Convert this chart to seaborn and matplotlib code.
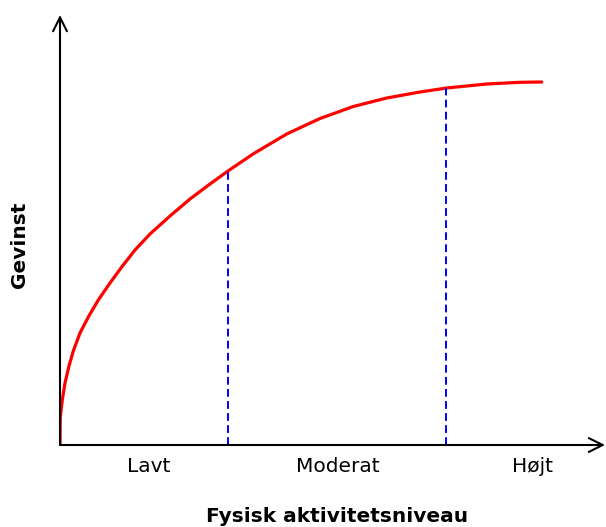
import matplotlib
matplotlib.use("Agg")
import matplotlib.pyplot as plt
import seaborn as sns
import pandas as pd

# curve (activity level vs. benefit, arbitrary units)
aktivitet = [0, 0.3, 2.3, 5, 9, 13.3, 20, 28.3, 38.3, 50, 61.7, 75, 90, 110,
             130, 150, 168, 193, 226.7, 260, 293.3, 326.7, 360, 386.7, 426.7,
             460, 481.7]
gevinst = [0, 28, 45, 62, 79, 94, 112, 128, 145, 162, 178, 195, 211, 229,
           246, 261, 274, 291, 311, 326.5, 338.5, 347, 353, 357, 361, 362.7, 363]

# boundaries between levels and where they meet the curve
graenser = [168, 386]
graense_hoejde = [274, 357]

niveauer = ["Lavt", "Moderat", "Højt"]
niveau_pos = [89, 278, 472]

sns.set_style("white")
plt.rcParams['font.family'] = ['DejaVu Sans']

df = pd.DataFrame({"aktivitet": aktivitet, "gevinst": gevinst})

fig = plt.figure(figsize=(6.06, 5.27), dpi=100)
ax = fig.add_axes([60/606, 82/527, 546/606, 435/527])

sns.lineplot(data=df, x="aktivitet", y="gevinst", color="red", lw=2.3,
             estimator=None, sort=False, ax=ax)

for gx, gy in zip(graenser, graense_hoejde):
    ax.plot([gx, gx], [0, gy], color="blue", lw=1.4, ls=(0, (4, 2.2)))

ax.set_xlim(0, 546)
ax.set_ylim(0, 435)
for s in ax.spines.values():
    s.set_visible(False)
ax.set_xticks([])
ax.set_yticks([])
ax.set_xlabel("")
ax.set_ylabel("")

# axes as arrows
ax.annotate("", xy=(545, 0), xytext=(0, 0), annotation_clip=False,
            arrowprops=dict(arrowstyle="->", color="black", lw=1.5,
                            mutation_scale=25, shrinkA=0, shrinkB=0))
ax.annotate("", xy=(0, 430), xytext=(0, 0), annotation_clip=False,
            arrowprops=dict(arrowstyle="->", color="black", lw=1.5,
                            mutation_scale=25, shrinkA=0, shrinkB=0))

for p, n in zip(niveau_pos, niveauer):
    ax.text(p, -21, n, ha="center", va="center", fontsize=14.5, color="black")

fig.text(337/606, 1 - 516/527, "Fysisk aktivitetsniveau", ha="center", va="center",
         fontsize=14.5, fontweight="bold", color="black")
fig.text(20/606, 1 - 245/527, "Gevinst", ha="center", va="center", rotation=90,
         fontsize=14.5, fontweight="bold", color="black")

fig.savefig("out.png", dpi=100)
